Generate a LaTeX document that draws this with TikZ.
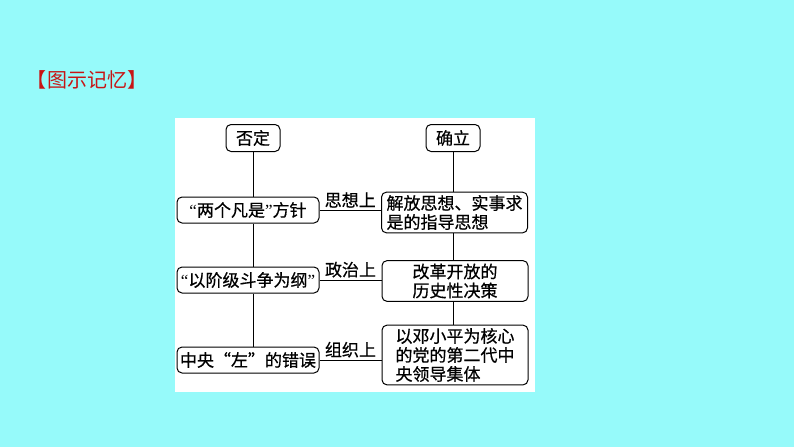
\documentclass[tikz,border=0pt]{standalone}
\usepackage{fontspec}
\setmainfont{Noto Sans CJK SC}[FakeBold=0.6]
\newfontfamily\titlefont{Noto Sans CJK SC}
\newfontfamily\qfont{Liberation Serif}
\newcommand{\openq}{{\qfont “}}
\newcommand{\closeq}{{\qfont ”}}
\definecolor{bgcyan}{RGB}{150,250,250}
\definecolor{titlered}{RGB}{200,20,20}
\begin{document}
\begin{tikzpicture}[x=1pt,y=-1pt,
    box/.style={draw,line width=1pt,rounded corners=5pt,fill=white,inner sep=3pt,font=\fontsize{17}{19}\selectfont},
    leftbox/.style={box,minimum width=142pt,minimum height=26pt,inner xsep=1pt},
    rightbox/.style={box,minimum width=146pt,align=left},
    headbox/.style={box,minimum width=54pt,minimum height=27pt},
    tag/.style={font=\fontsize{17}{19}\selectfont,inner sep=1pt},
    link/.style={line width=1pt}]
    \fill[bgcyan] (0,0) rectangle (794,447);
    \useasboundingbox (0,0) rectangle (794,447);
    \fill[white] (175,118) rectangle (535,392);
    \node[text=titlered,font=\titlefont\fontsize{20}{22}\selectfont] (title) at (87,80) {【图示记忆】};
    % heads
    \node[headbox] (fouding) at (253,138) {否定};
    \node[headbox] (queli) at (453,138) {确立};
    % left column
    \node[leftbox] (liangge) at (248,210) {\openq 两个凡是\closeq 方针};
    \node[leftbox] (jieji) at (248,280) {\openq 以阶级斗争为纲\closeq};
    \node[leftbox] (zuo) at (248,360) {中央“左”的错误};
    % right column
    \node[rightbox,text width=136pt] (jiefang) at (454.5,212.5) {解放思想、实事求\\是的指导思想};
    \node[rightbox,align=center] (gaige) at (455,281) {改革开放的\\历史性决策};
    \node[rightbox,text width=119pt] (lingdao) at (455,355) {以邓小平为核心\\的党的第二代中\\央领导集体};
    % verticals
    \draw[link] (fouding.south) -- (fouding.south |- liangge.north);
    \draw[link] (fouding.south |- liangge.south) -- (fouding.south |- jieji.north);
    \draw[link] (fouding.south |- jieji.south) -- (fouding.south |- zuo.north);
    \draw[link] (queli.south) -- (queli.south |- jiefang.north);
    \draw[link] (queli.south |- jiefang.south) -- (queli.south |- gaige.north);
    \draw[link] (queli.south |- gaige.south) -- (queli.south |- lingdao.north);
    % horizontals
    \draw[link] (liangge.east) -- (liangge.east -| jiefang.west) node[tag,midway,above=1pt] (sixiang) {思想上};
    \draw[link] (jieji.east) -- (jieji.east -| gaige.west) node[tag,midway,above=1pt] (zhengzhi) {政治上};
    \draw[link] (zuo.east) -- (zuo.east -| lingdao.west) node[tag,midway,above=1pt] (zuzhi) {组织上};
\end{tikzpicture}
\end{document}
